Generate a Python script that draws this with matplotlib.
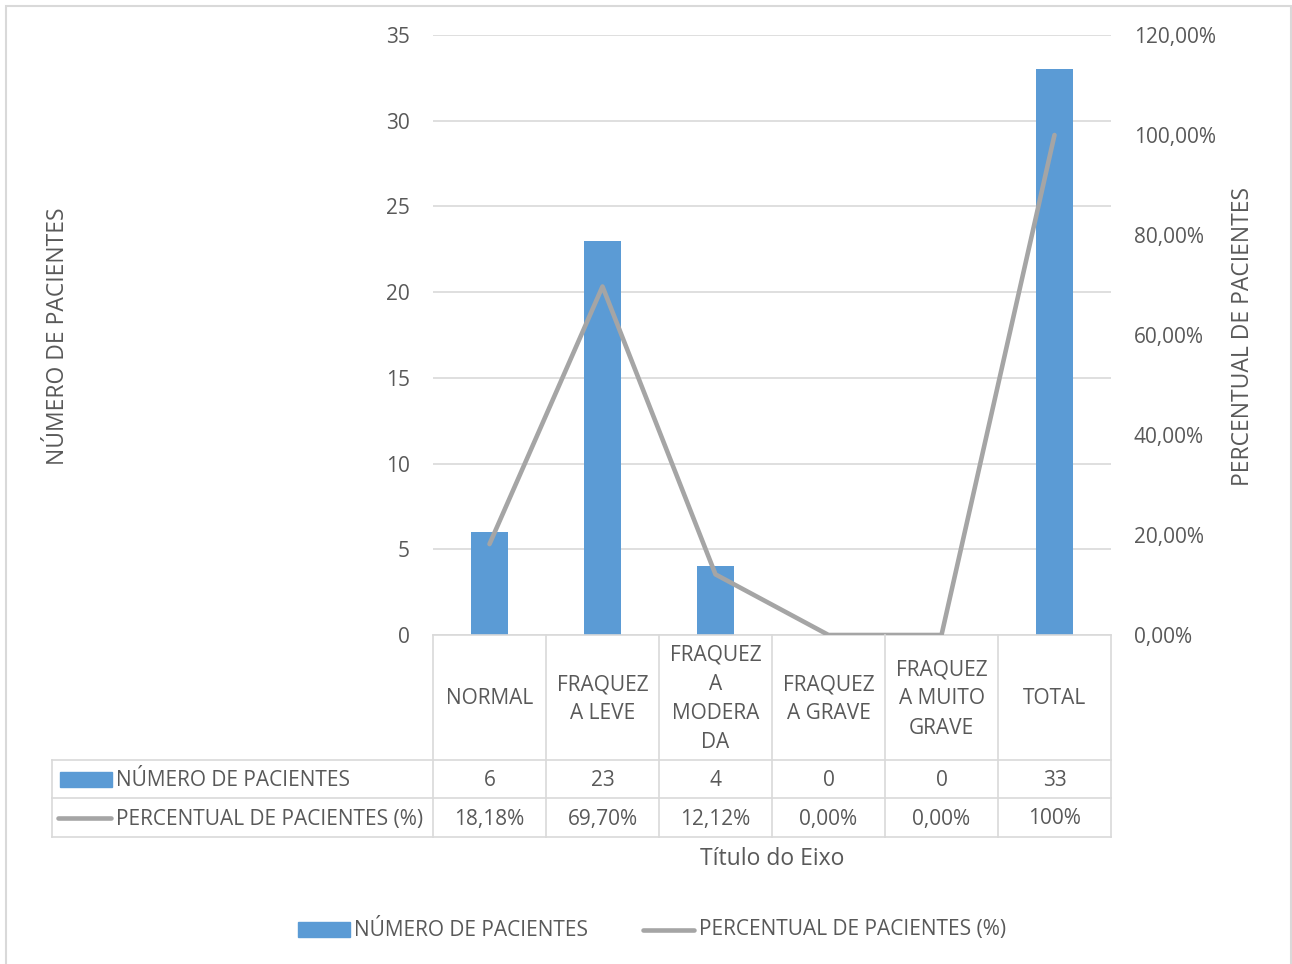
import matplotlib.pyplot as plt
from matplotlib.patches import Rectangle
from matplotlib.lines import Line2D
from matplotlib.transforms import blended_transform_factory

# dados
categorias = ['NORMAL', 'FRAQUEZ\nA LEVE', 'FRAQUEZ\nA\nMODERA\nDA',
              'FRAQUEZ\nA GRAVE', 'FRAQUEZ\nA MUITO\nGRAVE', 'TOTAL']
num_pacientes = [6, 23, 4, 0, 0, 33]
perc_pacientes = [18.18, 69.70, 12.12, 0.00, 0.00, 100.0]
num_rotulos = ['6', '23', '4', '0', '0', '33']
perc_rotulos = ['18,18%', '69,70%', '12,12%', '0,00%', '0,00%', '100%']

AZUL = '#5b9bd5'
CINZA_LINHA = '#a5a5a5'
CINZA_TEXTO = '#595959'
GRADE = '#d9d9d9'
FS = 15
FS_TIT = 16.5

plt.rcParams['font.family'] = ['Open Sans', 'DejaVu Sans']

W, H = 1292, 964
fig = plt.figure(figsize=(W / 100, H / 100), dpi=100)


def fx(px):
    return px / W


def fy(py):
    return 1 - py / H


# borda externa do grafico
fig.add_artist(Rectangle((fx(6), fy(990)), fx(1291) - fx(6), fy(6) - fy(990),
                         transform=fig.transFigure, fill=False,
                         edgecolor=GRADE, lw=1.5))

ax = fig.add_axes([fx(433), fy(635), fx(1111) - fx(433), fy(35) - fy(635)])
ax2 = ax.twinx()

x = list(range(len(categorias)))
ax.bar(x, num_pacientes, width=0.32, color=AZUL, zorder=2)
ax2.plot(x, perc_pacientes, color=CINZA_LINHA, lw=3.3, solid_capstyle='round',
         solid_joinstyle='round', zorder=3)

ax.set_xlim(-0.5, len(categorias) - 0.5)
ax.set_ylim(0, 35)
ax.set_yticks(range(0, 36, 5))
ax2.set_ylim(0, 120)
ax2.set_yticks(range(0, 121, 20))
ax2.set_yticklabels([f'{v:.2f}%'.replace('.', ',') for v in range(0, 121, 20)])
ax.set_xticks([])

ax.yaxis.grid(True, color=GRADE, lw=1.2, zorder=0)
ax.set_axisbelow(True)
for a in (ax, ax2):
    for s in a.spines.values():
        s.set_visible(False)
    a.tick_params(axis='y', length=0, labelsize=FS, labelcolor=CINZA_TEXTO, pad=16.5)
ax.spines['bottom'].set_visible(True)
ax.spines['bottom'].set_color(GRADE)
ax.spines['bottom'].set_linewidth(1.2)

fig.text(fx(58), fy(336), 'NÚMERO DE PACIENTES', rotation=90, ha='center',
         va='center', fontsize=FS_TIT, color=CINZA_TEXTO)
fig.text(fx(1243), fy(336), 'PERCENTUAL DE PACIENTES', rotation=90, ha='center',
         va='center', fontsize=FS_TIT, color=CINZA_TEXTO)

# tabela de dados abaixo do grafico
tr = blended_transform_factory(ax.transData, fig.transFigure)
for i in range(len(categorias) + 1):
    fig.add_artist(Line2D([i - 0.5, i - 0.5], [fy(635), fy(837)], transform=tr,
                          color=GRADE, lw=1.2))
for yy in (760, 798, 837):
    fig.add_artist(Line2D([fx(52), fx(1111)], [fy(yy), fy(yy)],
                          transform=fig.transFigure, color=GRADE, lw=1.2))
fig.add_artist(Line2D([fx(52), fx(52)], [fy(760), fy(837)],
                      transform=fig.transFigure, color=GRADE, lw=1.2))

for i, cat in enumerate(categorias):
    fig.text(i, fy(699), cat, transform=tr, ha='center', va='center',
             fontsize=FS, color=CINZA_TEXTO, linespacing=1.5)
    fig.text(i, fy(780), num_rotulos[i], transform=tr, ha='center', va='center',
             fontsize=FS, color=CINZA_TEXTO)
    fig.text(i, fy(819), perc_rotulos[i], transform=tr, ha='center', va='center',
             fontsize=FS, color=CINZA_TEXTO)

fig.add_artist(Rectangle((fx(60), fy(787)), fx(112) - fx(60), fy(772) - fy(787),
                         transform=fig.transFigure, color=AZUL))
fig.text(fx(116), fy(780), 'NÚMERO DE PACIENTES', ha='left', va='center',
         fontsize=FS, color=CINZA_TEXTO)
fig.add_artist(Line2D([fx(58), fx(111)], [fy(818), fy(818)], transform=fig.transFigure,
                      color=CINZA_LINHA, lw=3.3, solid_capstyle='round'))
fig.text(fx(116), fy(819), 'PERCENTUAL DE PACIENTES (%)', ha='left', va='center',
         fontsize=FS, color=CINZA_TEXTO)

fig.text(fx(772), fy(859), 'Título do Eixo', ha='center', va='center',
         fontsize=FS_TIT, color=CINZA_TEXTO)

# legenda inferior
fig.add_artist(Rectangle((fx(298), fy(937)), fx(350) - fx(298), fy(922) - fy(937),
                         transform=fig.transFigure, color=AZUL))
fig.text(fx(354), fy(930), 'NÚMERO DE PACIENTES', ha='left', va='center',
         fontsize=FS, color=CINZA_TEXTO)
fig.add_artist(Line2D([fx(643), fx(694)], [fy(930), fy(930)], transform=fig.transFigure,
                      color=CINZA_LINHA, lw=3.3, solid_capstyle='round'))
fig.text(fx(699), fy(930), 'PERCENTUAL DE PACIENTES (%)', ha='left', va='center',
         fontsize=FS, color=CINZA_TEXTO)

fig.savefig('out.png', dpi=100)
